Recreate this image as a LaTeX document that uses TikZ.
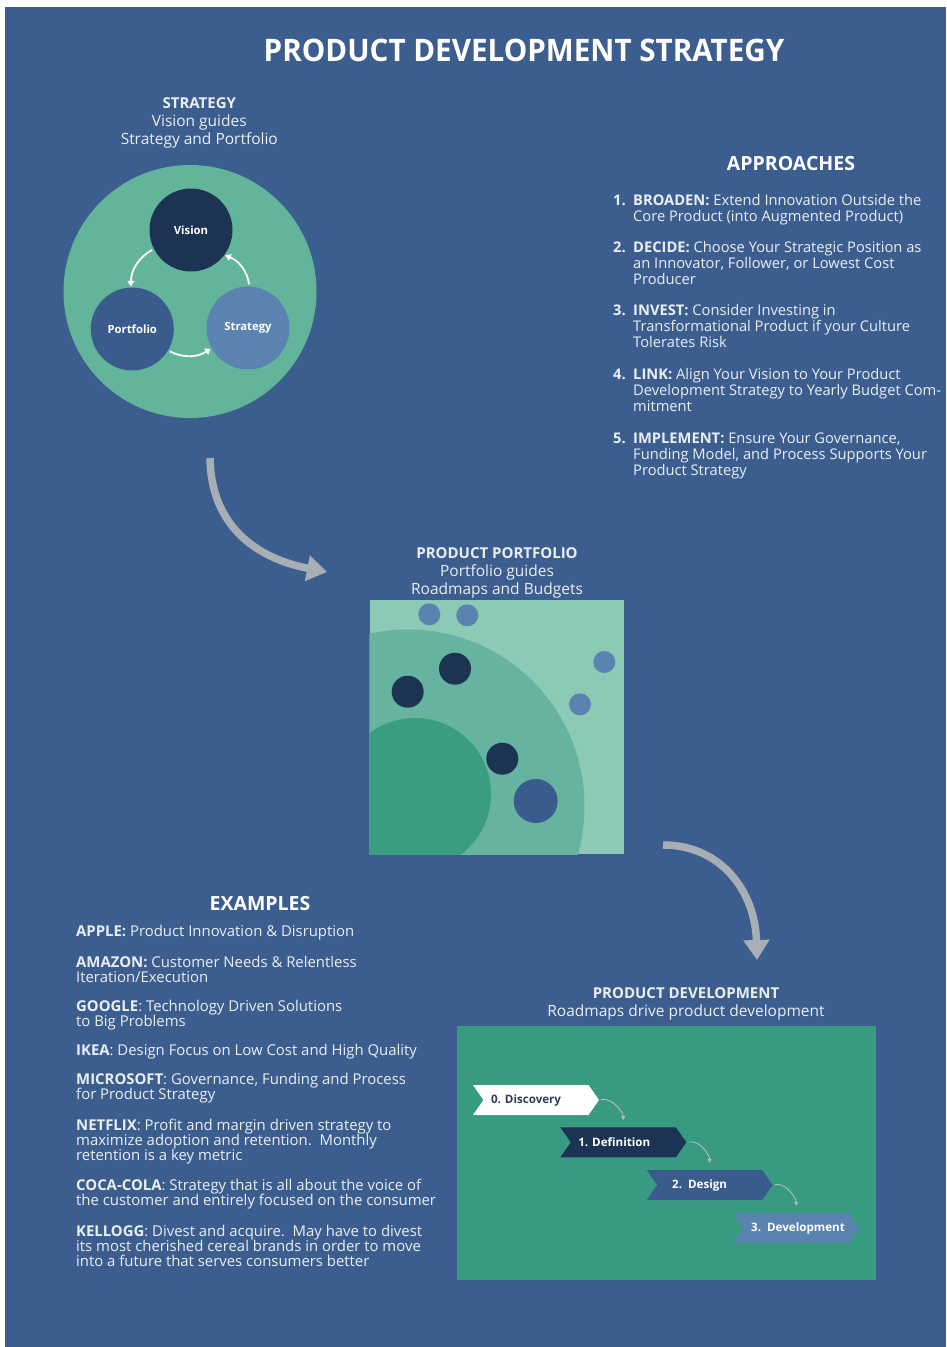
\documentclass[tikz,border=0pt]{standalone}
\usepackage{fontspec}
\setmainfont{Open Sans}
\usetikzlibrary{arrows.meta,positioning,shapes.symbols,calc}

\definecolor{bgblue}{HTML}{3C5E8E}
\definecolor{ringteal}{HTML}{62B49B}
\definecolor{navy}{HTML}{1C3354}
\definecolor{portblue}{HTML}{3A5C8C}
\definecolor{stratblue}{HTML}{5B83B0}
\definecolor{folioLight}{HTML}{8DCAB5}
\definecolor{folioMid}{HTML}{66B49F}
\definecolor{folioDeep}{HTML}{3A9D81}
\definecolor{devgreen}{HTML}{389B81}
\definecolor{arrowgray}{HTML}{A8AEB5}
\definecolor{stepgray}{HTML}{B4BCC0}
\definecolor{bodytxt}{HTML}{E9EEF5}
\definecolor{disctxt}{HTML}{2D3E55}

\begin{document}
\begin{tikzpicture}[
    x=1pt, y=1pt,
    every node/.style={inner sep=0pt, text=bodytxt},
    headtext/.style={align=center, anchor=base, font=\fontsize{15.5}{18}\selectfont},
    bigtitle/.style={anchor=base, text=white, font=\bfseries\fontsize{19.5}{24}\selectfont},
    bodytext/.style={align=left, anchor=base west, font=\fontsize{14.7}{16}\selectfont},
    numtext/.style={bodytext, font=\bfseries\fontsize{14.7}{16}\selectfont},
    extext/.style={bodytext, font=\fontsize{14.9}{15}\selectfont},
    cyc/.style={circle, minimum size=83pt, text=white, font=\bfseries\fontsize{11.3}{12}\selectfont},
    cyclearrow/.style={draw=white, line width=1.8pt, -{Triangle[length=5.5pt, width=7pt]}, bend right=30, shorten <=2pt, shorten >=1pt},
    chevron/.style={signal, signal from=west, signal to=east, signal pointer angle=110, minimum width=126pt, minimum height=30pt, text=white, font=\bfseries\fontsize{11.6}{13}\selectfont},
    steparrow/.style={draw=stepgray, line width=0.9pt, -{Triangle[length=4pt, width=4pt]}, shorten <=2pt, shorten >=7pt},
    flowarrow/.style={draw=arrowgray, line width=7.5pt, -{Triangle[length=20pt, width=25pt]}}
  ]
    % page and background
    \useasboundingbox (0,0) rectangle (946,-1347);
    \fill[white] (0,0) rectangle (946,-1347);
    \fill[bgblue] (5,-7) rectangle (946,-1347);

    \node[anchor=base, text=white, font=\bfseries\fontsize{31}{36}\selectfont] (title) at (524,-61) {\scalebox{0.955}[1]{PRODUCT DEVELOPMENT STRATEGY}};

    % strategy cycle
    \node[headtext] (strathead) at (199.3,-144.3) {{\bfseries\fontsize{15}{18}\selectfont STRATEGY}\\Vision guides\\Strategy and Portfolio};
    \node[circle, fill=ringteal, minimum size=253pt] (ring) at (190,-291.5) {};
    \node[cyc, fill=navy] (vision) at (191,-230) {Vision};
    \node[cyc, fill=portblue] (portfolio) at (132.3,-329) {Portfolio};
    \node[cyc, fill=stratblue] (strategy) at (248,-328) {Strategy};
    \draw[cyclearrow] (vision.207) to (portfolio.92);
    \draw[cyclearrow] (portfolio.-31) to (strategy.209);
    \draw[cyclearrow] (strategy.88) to (vision.-37);

    % approaches
    \node[bigtitle] (apphead) at (791,-170.7) {APPROACHES};
    \node[numtext] (n1) at (613,-205) {1.};
    \node[bodytext] (a1) at (633,-221) {\textbf{BROADEN:} Extend Innovation Outside the\\Core Product (into Augmented Product)};
    \node[numtext] (n2) at (613,-252) {2.};
    \node[bodytext] (a2) at (633,-284) {\textbf{DECIDE:} Choose Your Strategic Position as\\an Innovator, Follower, or Lowest Cost\\Producer};
    \node[numtext] (n3) at (613,-315.5) {3.};
    \node[bodytext] (a3) at (633,-347.5) {\textbf{INVEST:} Consider Investing in\\Transformational Product if your Culture\\Tolerates Risk};
    \node[numtext] (n4) at (613,-379.5) {4.};
    \node[bodytext] (a4) at (633,-411.5) {\textbf{LINK:} Align Your Vision to Your Product\\Development Strategy to Yearly Budget Com-\\mitment};
    \node[numtext] (n5) at (613,-443.5) {5.};
    \node[bodytext] (a5) at (633,-475.5) {\textbf{IMPLEMENT:} Ensure Your Governance,\\Funding Model, and Process Supports Your\\Product Strategy};

    % strategy -> portfolio
    \coordinate (flow1s) at (210,-458);
    \coordinate (flow1e) at (327,-572);
    \draw[flowarrow] (flow1s) .. controls (211,-525) and (255,-558) .. (flow1e);

    % product portfolio
    \node[headtext] (foliohead) at (497,-594) {{\bfseries\fontsize{15}{18}\selectfont PRODUCT PORTFOLIO}\\Portfolio guides\\Roadmaps and Budgets};
    \node[fill=folioLight, minimum size=254pt, anchor=north west] (folio) at (369.3,-600) {};
    \begin{scope}
      \clip (folio.south west) rectangle (folio.north east);
      \fill[folioMid] (408,-806) circle (176.5);
      \fill[folioDeep] (415,-794) circle (76);
    \end{scope}
    \foreach \x/\y in {429.3/614.3, 467.3/615.3, 604.3/662, 580/704.3}
      \fill[stratblue] (\x,-\y) circle (11);
    \foreach \x/\y in {455/668.7, 407.7/691.7, 502.3/758.7}
      \fill[navy] (\x,-\y) circle (16);
    \fill[portblue] (535.7,-801) circle (22);

    % portfolio -> development
    \coordinate (flow2s) at (663,-845);
    \coordinate (flow2e) at (757,-960);
    \draw[flowarrow] (flow2s) .. controls (720,-845) and (755,-890) .. (flow2e);

    % examples
    \node[bigtitle] (exhead) at (260,-910) {EXAMPLES};
    \node[extext] (apple) at (76,-936) {\textbf{APPLE:} Product Innovation \& Disruption};
    \node[extext] (amazon) at (76,-982.3) {\textbf{AMAZON:} Customer Needs \& Relentless\\Iteration/Execution};
    \node[extext] (google) at (76,-1026) {\textbf{GOOGLE}: Technology Driven Solutions\\to Big Problems};
    \node[extext] (ikea) at (76,-1055.7) {\textbf{IKEA}: Design Focus on Low Cost and High Quality};
    \node[extext] (msft) at (76,-1099) {\textbf{MICROSOFT}: Governance, Funding and Process\\for Product Strategy};
    \node[extext] (netflix) at (76,-1160) {\textbf{NETFLIX}: Profit and margin driven strategy to\\maximize adoption and retention.\ \ Monthly\\retention is a key metric};
    \node[extext] (coke) at (76,-1205) {\textbf{COCA-COLA}: Strategy that is all about the voice of\\the customer and entirely focused on the consumer};
    \node[extext] (kellogg) at (76,-1266) {\textbf{KELLOGG}: Divest and acquire.\ \ May have to divest\\its most cherished cereal brands in order to move\\into a future that serves consumers better};

    % product development
    \node[headtext] (devhead) at (686,-1016) {{\bfseries\fontsize{15}{18}\selectfont PRODUCT DEVELOPMENT}\\Roadmaps drive product development};
    \node[fill=devgreen, minimum width=419.3pt, minimum height=253.3pt, anchor=north west] (devbox) at (456.7,-1026) {};
    \node[chevron, fill=white, text=disctxt] (disc) at (536,-1100) {\makebox[90pt][l]{0. Discovery}};
    \node[chevron, fill=navy] (defn) at (623.3,-1142.3) {\makebox[90pt][l]{1. Definition}};
    \node[chevron, fill=portblue] (design) at (709.7,-1185) {\makebox[90pt][l]{\hspace*{7.5pt}2.\ \ Design}};
    \node[chevron, fill=stratblue] (build) at (796.2,-1228) {\makebox[90pt][l]{3.\ \ Development}};
    \draw[steparrow] (disc.east) to[out=10, in=90] (defn.north);
    \draw[steparrow] (defn.east) to[out=10, in=90] (design.north);
    \draw[steparrow] (design.east) to[out=10, in=90] (build.north);
\end{tikzpicture}
\end{document}
